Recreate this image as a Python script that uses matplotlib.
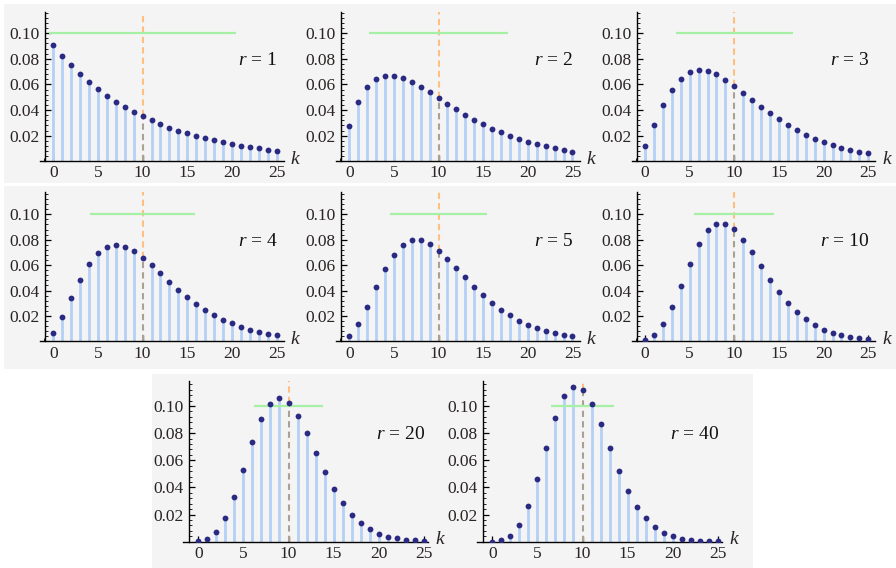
import matplotlib
matplotlib.use("Agg")
import matplotlib.pyplot as plt
from matplotlib.patches import Rectangle
from matplotlib.ticker import MultipleLocator, FixedLocator

plt.rcParams['font.family'] = ['Liberation Serif', 'DejaVu Serif']
plt.rcParams['mathtext.fontset'] = 'custom'
plt.rcParams['mathtext.rm'] = 'Liberation Serif'
plt.rcParams['mathtext.it'] = 'Liberation Serif:italic'

k = list(range(26))
r_values = [1, 2, 3, 4, 5, 10, 20, 40]
mean_k = 10
sd_lo = [-0.49, 2.25, 3.42, 4.08, 4.52, 5.53, 6.13, 6.46]
sd_hi = [20.49, 17.75, 16.58, 15.92, 15.48, 14.47, 13.87, 13.54]

p_r1 = [.0909, .0826, .0751, .0683, .0621, .0564, .0513, .0467, .0424, .0386, .0350, .0319, .0290,
        .0263, .0239, .0218, .0198, .0180, .0164, .0149, .0135, .0123, .0112, .0102, .0092, .0084]
p_r2 = [.0278, .0463, .0579, .0643, .0670, .0670, .0651, .0620, .0581, .0538, .0494, .0449, .0405,
        .0364, .0325, .0289, .0255, .0225, .0198, .0174, .0152, .0133, .0116, .0101, .0087, .0076]
p_r3 = [.0123, .0284, .0436, .0559, .0645, .0695, .0713, .0705, .0678, .0637, .0588, .0535, .0480,
        .0426, .0375, .0327, .0283, .0243, .0208, .0177, .0149, .0126, .0106, .0088, .0074, .0061]
p_r4 = [.0067, .0190, .0340, .0486, .0607, .0694, .0744, .0759, .0745, .0710, .0659, .0599, .0535,
        .0470, .0408, .0350, .0297, .0249, .0208, .0172, .0141, .0115, .0093, .0075, .0061, .0049]
p_r5 = [.0041, .0137, .0274, .0427, .0569, .0683, .0759, .0795, .0795, .0765, .0714, .0649, .0577,
        .0503, .0431, .0364, .0304, .0250, .0204, .0164, .0132, .0104, .0082, .0064, .0050, .0039]
p_r10 = [.0010, .0049, .0134, .0269, .0436, .0611, .0764, .0873, .0927, .0927, .0881, .0801, .0701,
         .0593, .0487, .0390, .0304, .0233, .0175, .0129, .0093, .0067, .0047, .0033, .0023, .0015]
p_r20 = [.0003, .0020, .0070, .0172, .0329, .0526, .0731, .0905, .1018, .1055, .1020, .0928, .0799,
         .0655, .0515, .0389, .0284, .0200, .0137, .0092, .0060, .0038, .0024, .0014, .0009, .0005]
p_r40 = [.0001, .0011, .0044, .0122, .0263, .0462, .0693, .0911, .1070, .1142, .1119, .1017, .0865,
         .0692, .0524, .0377, .0259, .0171, .0108, .0066, .0039, .0022, .0012, .0007, .0004, .0002]
probs = [p_r1, p_r2, p_r3, p_r4, p_r5, p_r10, p_r20, p_r40]

W, H = 896, 568
fig = plt.figure(figsize=(W / 100, H / 100), dpi=100)
fig.patch.set_facecolor('white')

BG = '#f4f4f4'
def bg_rect(x0, y0, x1, y1):
    fig.patches.append(Rectangle((x0 / W, 1 - y1 / H), (x1 - x0) / W, (y1 - y0) / H,
                                 transform=fig.transFigure, facecolor=BG, edgecolor='none', zorder=-10))
bg_rect(4, 4, 896, 183)
bg_rect(4, 186, 896, 369)
bg_rect(152, 374, 753, 568)

STEM = '#b5d0f5'
DOT = '#2b2a82'
GREEN = '#a6f0a6'
ORANGE = '#ffbf80'
GRAYD = '#aaa096'
TXT = '#2a2424'

row1 = (161.3, 12.0, 0.1166)
row2 = (341.4, 191.7, 0.1178)
row3 = (541.7, 380.7, 0.1186)
layouts = [
    (53.3, 8.93, -1.5, 25.8, -0.93, row1),
    (349.2, 8.93, -1.5, 25.8, -0.93, row1),
    (645.0, 8.93, -1.5, 25.8, -0.93, row1),
    (53.3, 8.93, -1.5, 25.8, -0.93, row2),
    (349.2, 8.93, -1.5, 25.8, -0.93, row2),
    (645.0, 8.93, -1.5, 25.8, -0.93, row2),
    (198.3, 9.02, -1.65, 25.5, -1.0, row3),
    (492.3, 9.02, -1.65, 25.5, -1.0, row3),
]

for i, (r, p) in enumerate(zip(r_values, probs)):
    zero, sc, xlo, xhi, yax, (bpx, tpx, ytop) = layouts[i]
    left = zero + xlo * sc
    width = (xhi - xlo) * sc
    ax = fig.add_axes([left / W, 1 - bpx / H, width / W, (bpx - tpx) / H])
    ax.set_facecolor('none')
    ax.set_xlim(xlo, xhi)
    ax.set_ylim(0, ytop)
    for s in ['top', 'right']:
        ax.spines[s].set_visible(False)
    ax.spines['left'].set_position(('data', yax))
    ax.spines['left'].set_linewidth(1.0)
    ax.spines['bottom'].set_linewidth(1.0)

    for kk, pp in zip(k, p):
        if kk == mean_k:
            continue
        ax.plot([kk, kk], [0, pp], color=STEM, lw=2.0, solid_capstyle='butt', zorder=2)
    pm = p[k.index(mean_k)]
    ax.plot([mean_k, mean_k], [0, pm], color=GRAYD, lw=1.5, ls=(0, (3, 2)), zorder=2)
    ax.plot([mean_k, mean_k], [pm, ytop], color=ORANGE, lw=1.5, ls=(0, (3, 2)), zorder=2)
    ax.plot([sd_lo[i], sd_hi[i]], [0.10, 0.10], color=GREEN, lw=1.6, zorder=2, solid_capstyle='butt')
    ax.plot(k, p, 'o', color=DOT, ms=4.2, mec='none', zorder=3)

    ax.xaxis.set_major_locator(FixedLocator([0, 5, 10, 15, 20, 25]))
    ax.xaxis.set_minor_locator(MultipleLocator(1))
    ax.yaxis.set_major_locator(FixedLocator([0.02, 0.04, 0.06, 0.08, 0.10]))
    ax.yaxis.set_minor_locator(MultipleLocator(0.004))
    ax.yaxis.set_major_formatter(plt.FuncFormatter(lambda v, pos: f'{v:.2f}'))
    ax.tick_params(which='major', direction='in', length=4, width=0.9, labelsize=12.5,
                   labelcolor=TXT, pad=3)
    ax.tick_params(which='minor', direction='in', length=2, width=0.6)
    ax.tick_params(axis='y', pad=4)

    ax.text(25.1, 0.079, f'$r$ = {r}', ha='right', va='center', fontsize=14, color='#111111')
    kx = 27.1 if i < 6 else 26.8
    ax.text(kx, 0.0015, '$k$', ha='center', va='center', fontsize=14, color=TXT, clip_on=False)

fig.savefig('out.png', dpi=100, facecolor='white')
